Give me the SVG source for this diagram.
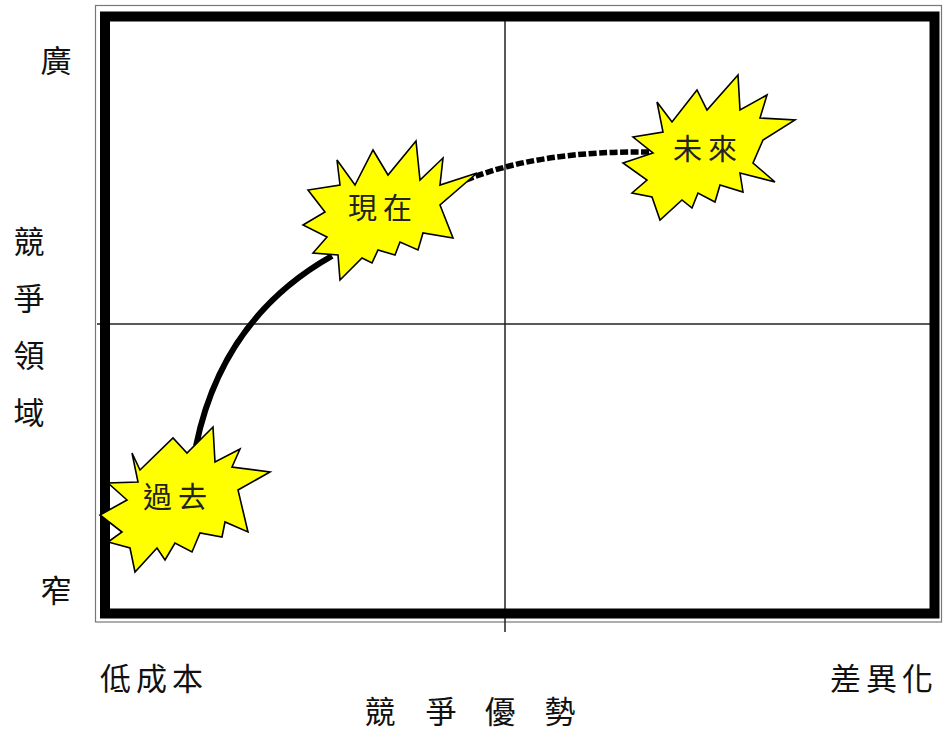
<svg xmlns="http://www.w3.org/2000/svg" width="945" height="733" viewBox="0 0 945 733">
<style>
.t{font-family:"Noto Sans CJK TC","Noto Sans CJK SC",sans-serif;fill:#111;}
.lbl{font-size:31px;}
.in{font-size:29px;fill:#222;}
.seal{fill:#ffff00;stroke:#000;stroke-width:1.6;stroke-linejoin:miter;}
</style>
<rect width="945" height="733" fill="#fff"/>
<g id="frame">
<rect x="95.5" y="5.5" width="846" height="616.5" fill="none" stroke="#777" stroke-width="1.2"/>
<line x1="505" y1="12" x2="505" y2="632" stroke="#222" stroke-width="1.5"/>
<line x1="97" y1="324" x2="938" y2="324" stroke="#222" stroke-width="1.5"/>
<rect x="105" y="16.5" width="829.5" height="597" fill="none" stroke="#000" stroke-width="10"/>
</g>
<g id="connectors">
<path d="M196,446 Q222,318 332,256" fill="none" stroke="#000" stroke-width="6"/>
<path d="M466,180 Q540,150 654,152" fill="none" stroke="#000" stroke-width="5.5" stroke-dasharray="8,2.5"/>
</g>
<g id="past">
<polygon class="seal" points="132,453 140,470 173,438 187,453 213,427 215,462 240,449 232,467 270,472 238,490 248,532 225,522 222,537 200,533 192,552 175,543 165,560 157,548 135,572 130,548 108,542 122,532 100,515 127,500 108,483 138,482"/>
<text class="t in" x="178" y="508" text-anchor="middle" letter-spacing="6">過去</text>
</g>
<g id="present">
<polygon class="seal" points="337,160 355,185 373,150 388,175 416,141 420,180 443,158 440,185 477,173 440,205 453,238 423,233 418,250 400,242 395,255 378,250 372,263 362,258 340,280 338,255 313,253 327,237 303,225 325,212 308,190 340,185"/>
<text class="t in" x="383" y="219" text-anchor="middle" letter-spacing="6">現在</text>
</g>
<g id="future">
<polygon class="seal" points="657,102 672,122 697,90 707,110 738,75 740,110 767,95 760,118 795,120 763,140 753,163 775,182 740,173 743,192 720,185 715,202 698,193 692,208 682,200 660,220 652,197 632,193 647,180 623,163 653,153 633,137 663,132"/>
<text class="t in" x="708" y="160" text-anchor="middle" letter-spacing="6">未來</text>
</g>
<g id="labels">
<text class="t lbl" x="56" y="72" text-anchor="middle">廣</text>
<text class="t lbl" x="56" y="602" text-anchor="middle">窄</text>
<text class="t lbl" x="29" y="253" text-anchor="middle">競</text>
<text class="t lbl" x="29" y="310" text-anchor="middle">爭</text>
<text class="t lbl" x="29" y="367" text-anchor="middle">領</text>
<text class="t lbl" x="29" y="424" text-anchor="middle">域</text>
<text class="t lbl" x="100" y="690" letter-spacing="5">低成本</text>
<text class="t lbl" x="830" y="690" letter-spacing="5">差異化</text>
<text class="t lbl" x="380" y="723" text-anchor="middle">競</text>
<text class="t lbl" x="441" y="723" text-anchor="middle">爭</text>
<text class="t lbl" x="500" y="723" text-anchor="middle">優</text>
<text class="t lbl" x="560" y="723" text-anchor="middle">勢</text>
</g>
</svg>
